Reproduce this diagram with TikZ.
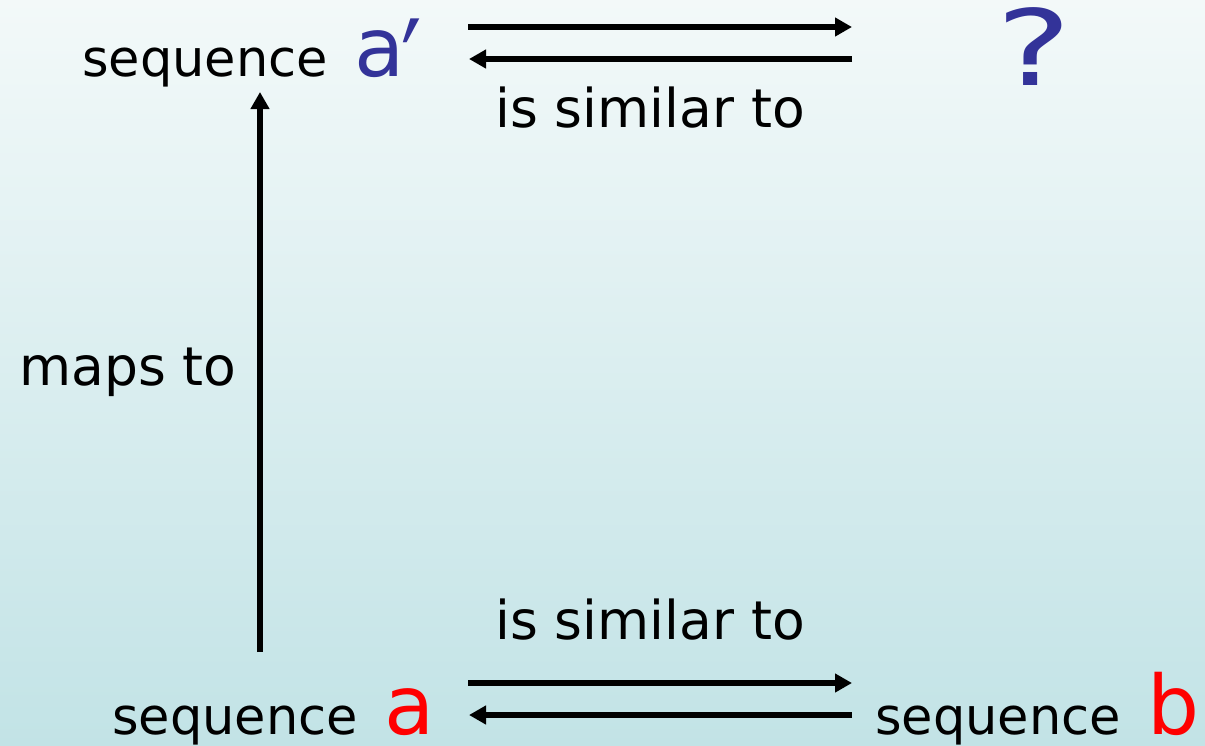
\documentclass[tikz,border=0pt]{standalone}
\usepackage{fontspec}
\setmainfont{DejaVu Sans}
\usetikzlibrary{arrows.meta}
\definecolor{bgtop}{HTML}{F3F9F9}
\definecolor{bgbot}{HTML}{C2E3E6}
\definecolor{seqblue}{HTML}{333399}
\definecolor{seqred}{HTML}{FF0000}
\newcommand{\bigfont}{\fontsize{82}{90}\selectfont}
\begin{document}
\begin{tikzpicture}[x=1pt,y=-1pt,
  lbl/.style={inner sep=0pt,anchor=base west,font=\fontsize{51}{60}\selectfont},
  lblb/.style={inner sep=0pt,anchor=base west,font=\fontsize{53.5}{60}\selectfont},
  arr/.style={line width=6pt,-{Triangle[length=17pt,width=18pt]}}]
\shade[top color=bgtop,bottom color=bgbot] (0,0) rectangle (1205,745);
\useasboundingbox (0,0) rectangle (1205,745);
% texts
\node[lbl] (aprime) at (82,76) {sequence{\bigfont\color{seqblue}\ a\kern-3pt\raisebox{-38pt}{\scalebox{1.1}[1.6]{′}}}};
\node[inner sep=0pt,anchor=base,text=seqblue,font=\fontsize{105}{110}\selectfont] (q) at (1034,85) {\scalebox{1.35}[1]{?}};
\node[lblb] (simtop) at (495,127) {is similar to};
\node[lblb] (maps) at (19,385) {maps to};
\node[lblb] (simbot) at (495,639) {is similar to};
\node[lbl] (seqa) at (112,734) {sequence{\bigfont\color{seqred}\ a}};
\node[lbl] (seqb) at (875,734) {sequence{\bigfont\color{seqred}\ b}};
% connector end points
\coordinate (tr1) at (468,27);
\coordinate (tr2) at (852,27);
\coordinate (tl1) at (852,59);
\coordinate (tl2) at (469,59);
\coordinate (br1) at (468,683);
\coordinate (br2) at (852,683);
\coordinate (bl1) at (852,715);
\coordinate (bl2) at (469,715);
\coordinate (v1) at (260,652);
\coordinate (v2) at (260,92);
\draw[arr] (tr1) -- (tr2);
\draw[arr] (tl1) -- (tl2);
\draw[arr] (br1) -- (br2);
\draw[arr] (bl1) -- (bl2);
\draw[arr] (v1) -- (v2);
\end{tikzpicture}
\end{document}
